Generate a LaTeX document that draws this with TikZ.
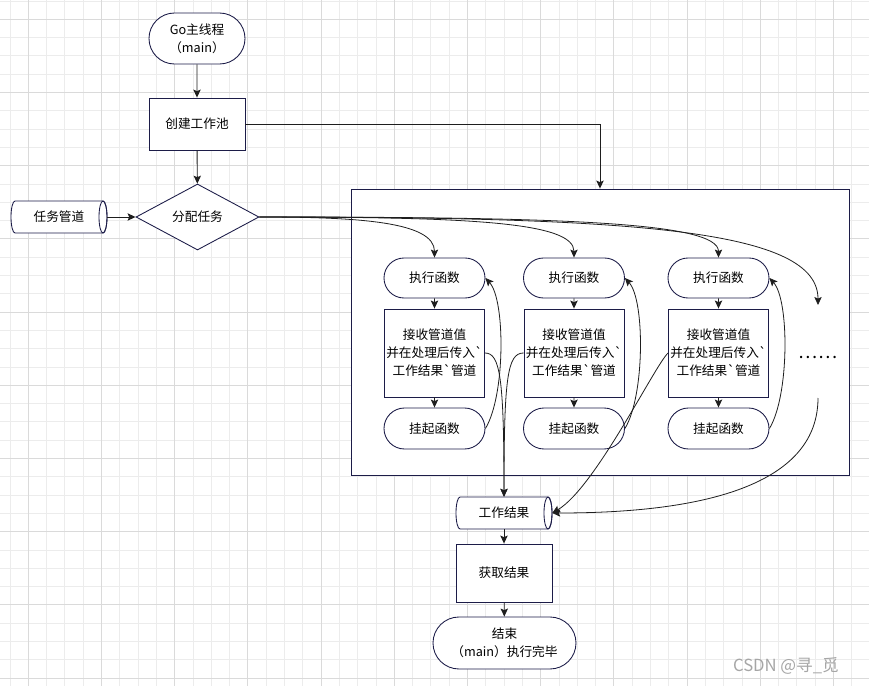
\documentclass[tikz,border=0pt]{standalone}
\usepackage{fontspec}
\newfontfamily\cjk{Noto Sans CJK SC}
\usetikzlibrary{arrows.meta,shapes.geometric,shapes.misc,calc}
\definecolor{nav}{RGB}{28,28,72}
\definecolor{gmin}{RGB}{236,236,236}
\definecolor{gmaj}{RGB}{218,218,218}
\definecolor{edgec}{RGB}{30,30,30}
\newcommand{\mycyl}[4]{%
  \draw[nav, line width=0.65pt, fill=white] (#2-44,#3-16) arc[start angle=90,end angle=270,x radius=3pt,y radius=12pt] -- (#2+44,#3+16) arc[start angle=-90,end angle=90,x radius=3pt,y radius=12pt] -- cycle;
  \draw[nav, line width=0.65pt] (#2+44,#3) ellipse[x radius=3pt,y radius=12pt];
  \node[minimum width=72pt,minimum height=24pt,inner sep=0pt] (#1) at (#2,#3) {#4};
}
\begin{document}
\begin{tikzpicture}[x=0.75pt,y=-0.75pt,
  font=\cjk\fontsize{9.5}{13.5}\selectfont,
  base/.style={draw=nav, fill=white, line width=0.65pt, align=center, inner sep=0pt},
  stad/.style={base, rounded rectangle},
  box/.style={base, rectangle},
  arr/.style={draw=edgec, line width=0.7pt, -{Stealth[length=6pt,width=5.5pt,inset=1.2pt]}},
  thin arr/.style={draw=edgec, line width=0.6pt, -{Stealth[length=6pt,width=5.5pt,inset=1.2pt]}}
]
\useasboundingbox (0,0) rectangle (869,686);
\fill[white] (0,0) rectangle (869,686);
% grid
\foreach \i in {0,...,46} { \draw[gmin, line width=0.75pt] ({10+\i*18.3},0) -- ({10+\i*18.3},686); }
\foreach \j in {0,...,37} { \draw[gmin, line width=0.75pt] (0,{1+\j*18.3}) -- (869,{1+\j*18.3}); }
\foreach \i in {1,5,...,45} { \draw[gmaj, line width=0.75pt] ({10+\i*18.3},0) -- ({10+\i*18.3},686); }
\foreach \j in {1,5,...,37} { \draw[gmaj, line width=0.75pt] (0,{1+\j*18.3}) -- (869,{1+\j*18.3}); }

% container
\node[box, minimum width=373.5pt, minimum height=214.5pt] (cont) at (600,332) {};

% main column
\node[stad, minimum width=72pt, minimum height=38.25pt] (go) at (197,38.5) {Go主线程\\（main）};
\node[box, minimum width=72pt, minimum height=39pt] (pool) at (197,124) {创建工作池};
\node[base, diamond, aspect=1.86, minimum width=92.25pt, minimum height=49.5pt] (fp) at (197.5,217) {分配任务};
\mycyl{tq}{59}{217}{任务管道}

% workers
\foreach \c/\x in {1/434.5, 2/574, 3/718.5} {
  \node[stad, minimum width=75.75pt, minimum height=30pt] (e\c) at (\x,278) {执行函数};
  \node[box, minimum width=75pt, minimum height=66pt] (r\c) at (\x,353) {接收管道值\\并在处理后传入`\\工作结果`管道};
  \node[stad, minimum width=75.75pt, minimum height=30.75pt] (s\c) at (\x,428.5) {挂起函数};
}
\node[anchor=base, font=\cjk\fontsize{13.5}{14}\selectfont, inner sep=0pt] (dots) at (818,358) {……};
\coordinate (dt) at (818,305);
\coordinate (db) at (818,398);

% bottom column
\mycyl{w}{504}{513}{工作结果}
\node[box, minimum width=72pt, minimum height=43.5pt] (get) at (504,573) {获取结果};
\node[stad, minimum width=107.25pt, minimum height=39pt] (end) at (504.5,643) {结束\\（main）执行完毕};

% watermark
\node[text=gray!70, font=\cjk\fontsize{12.5}{14}\selectfont] (wm) at (786,666) {CSDN @寻\_觅};

% arrows main
\draw[arr] (go) -- (pool);
\draw[arr] (pool) -- (fp);
\draw[arr] (tq.east) -- (fp.west);
\draw[arr] (pool.east) -| (cont.north);

% distribution curves
\draw[thin arr] (fp.east) .. controls (360,217) and (434.5,222) .. (e1.north);
\draw[thin arr] (fp.east) .. controls (470,217) and (574,222) .. (e2.north);
\draw[thin arr] (fp.east) .. controls (560,217) and (718.5,222) .. (e3.north);
\draw[thin arr] (fp.east) .. controls (640,217) and (818,230) .. (dt);

% within columns
\foreach \c in {1,2,3} {
  \draw[arr] (e\c) -- (r\c);
  \draw[arr] (r\c) -- (s\c);
  \draw[thin arr] (s\c.east) .. controls ($(s\c.east)+(20,-33)$) and ($(e\c.east)+(20,22)$) .. (e\c.east);
}

% results
\draw[thin arr] (r1.east) .. controls ($(r1.east)+(15,0)$) and ($(w.north)+(0,-120)$) .. (w.north);
\draw[thin arr] (r2.west) .. controls ($(r2.west)+(-16,0)$) and ($(w.north)+(0,-120)$) .. (w.north);
\draw[thin arr] (r3.west) .. controls (655,365) and (595,488) .. (w.east);
\draw[thin arr] (db) .. controls (818,500) and (660,513) .. (w.east);

\draw[arr] (w) -- (get);
\draw[arr] (get) -- (end);
\end{tikzpicture}
\end{document}
